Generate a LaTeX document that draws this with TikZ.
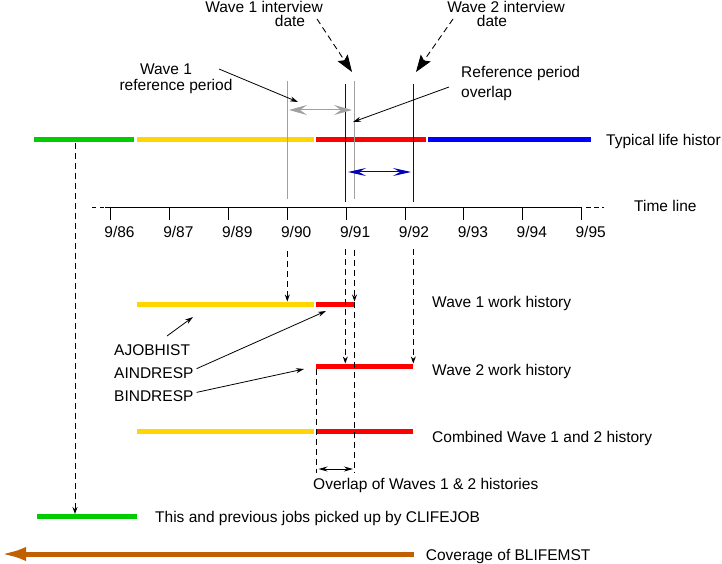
\documentclass[tikz,border=0pt]{standalone}
\usepackage{fontspec}
\setmainfont{Liberation Sans}
\usetikzlibrary{arrows.meta}
\definecolor{lifegreen}{HTML}{00CC00}
\definecolor{lifeyellow}{HTML}{FFD600}
\definecolor{lifered}{HTML}{FF0000}
\definecolor{lifeblue}{HTML}{0000FF}
\definecolor{navyline}{HTML}{0000B8}
\definecolor{refgray}{HTML}{A0A0A0}
\definecolor{coverorange}{HTML}{C06000}
\tikzset{
    lab/.style={anchor=base west,inner sep=0pt,font=\fontsize{15.5}{19}\selectfont},
    labc/.style={lab,anchor=base},
    bar/.style={line width=5pt},
    guide/.style={line width=0.9pt,dash pattern=on 6pt off 4pt},
    drop/.style={guide,-{Stealth[length=7pt,width=5pt]}},
    pointer/.style={line width=0.8pt,-{Stealth[length=8pt,width=5pt]}},
    bigtip/.style={guide,-{Stealth[length=17pt,width=12pt,inset=3pt]}},
    period/.style={line width=1pt,{Stealth[length=18pt,width=10pt,inset=7pt]}-{Stealth[length=18pt,width=10pt,inset=7pt]}}
}

\begin{document}
\begin{tikzpicture}[x=1pt,y=-1pt]
    \useasboundingbox (0,0) rectangle (722,564);

    \draw[bar,lifegreen] (34,140) -- (134,140);
    \draw[bar,lifeyellow] (137,140) -- (314,140);
    \draw[bar,lifered] (316,140) -- (426,140);
    \draw[bar,lifeblue] (428,140) -- (591,140);
    \node[lab] (typical) at (606,146) {Typical life histor};

    \draw[refgray,line width=1pt] (287.3,81) -- (287.3,199);
    \draw[refgray,line width=1pt] (354.5,81) -- (354.5,199);
    \draw[navyline,line width=1pt] (345.3,84) -- (345.3,202);
    \draw[navyline,line width=1pt] (413.3,84) -- (413.3,202);
    \coordinate (w1from) at (289,110);
    \coordinate (w1to) at (352,110);
    \draw[period,refgray] (w1from) -- (w1to);
    \coordinate (w2from) at (348,172);
    \coordinate (w2to) at (411,172);
    \draw[period,navyline,{Stealth[length=18pt,width=8pt,inset=7pt]}-{Stealth[length=18pt,width=8pt,inset=7pt]}] (w2from) -- (w2to);

    \draw[line width=1.3pt] (105,207.5) -- (582,207.5);
    \draw[line width=1.3pt,dash pattern=on 4pt off 4pt] (92,207.5) -- (105,207.5);
    \draw[line width=1.3pt,dash pattern=on 5pt off 3pt] (586,207.5) -- (604,207.5);
    \foreach \yr [count=\i from 0] in {86,87,89,90,91,92,93,94,95} {
        \draw[line width=1pt] (110.5+58.9*\i,207.5) -- ++(0,12);
        \node[labc] (t\yr) at (119.5+58.9*\i,237) {9/\yr};
    }
    \node[lab] (timeline) at (634,211) {Time line};

    \node[labc] (w1int) at (264,13) {Wave 1 interview};
    \node[labc] (w1date) at (290,27) {date};
    \node[labc] (w2int) at (506,13) {Wave 2 interview};
    \node[labc] (w2date) at (492,27) {date};
    \coordinate (w1intfrom) at (317,19);
    \coordinate (w1intto) at (352,72);
    \coordinate (w2intfrom) at (453,19);
    \coordinate (w2intto) at (416,72);
    \draw[bigtip] (w1intfrom) -- (w1intto);
    \draw[bigtip] (w2intfrom) -- (w2intto);

    \node[labc] (refwave) at (166,75) {Wave 1};
    \node[labc] (refperiod) at (176,91) {reference period};
    \coordinate (refpfrom) at (219,69);
    \coordinate (refpto) at (298,102);
    \draw[pointer] (refpfrom) -- (refpto);
    \node[lab] (ovref) at (461,78) {Reference period};
    \node[lab] (ovword) at (461,98) {overlap};
    \coordinate (ovfrom) at (449,87);
    \coordinate (ovto) at (353,122);
    \draw[pointer] (ovfrom) -- (ovto);

    \draw[bar,lifeyellow] (137,304) -- (314,304);
    \draw[bar,lifered] (316,304) -- (355,304);
    \node[lab] (wave1hist) at (432,307.7) {Wave 1 work history};
    \draw[bar,lifered] (316,366) -- (413,366);
    \node[lab] (wave2hist) at (432,375.7) {Wave 2 work history};
    \draw[bar,lifeyellow] (137,431.3) -- (314,431.3);
    \draw[bar,lifered] (316,431.3) -- (413,431.3);
    \node[lab] (combined) at (432,442.7) {Combined Wave 1 and 2 history};

    \coordinate (d90top) at (287.3,251);
    \coordinate (d90end) at (287.3,301.5);
    \coordinate (d91top) at (345.3,249);
    \coordinate (d91end) at (345.3,363.5);
    \coordinate (dovtop) at (354.5,250);
    \coordinate (dovend) at (354.5,301.5);
    \coordinate (dovlow) at (354.5,473);
    \coordinate (d92top) at (413.3,249);
    \coordinate (d92end) at (413.3,363.5);
    \coordinate (dstart) at (316.5,368.5);
    \coordinate (dstartlow) at (316.5,473);
    \draw[drop] (d90top) -- (d90end);
    \draw[drop] (d91top) -- (d91end);
    \draw[drop] (dovtop) -- (dovend);
    \draw[guide] (dovend) -- (dovlow);
    \draw[drop] (d92top) -- (d92end);
    \draw[guide] (dstart) -- (dstartlow);
    \coordinate (ovlfrom) at (318.5,469);
    \coordinate (ovlto) at (353,469);
    \draw[line width=0.9pt,{Stealth[length=9pt,width=5pt]}-{Stealth[length=9pt,width=5pt]}] (ovlfrom) -- (ovlto);
    \node[lab] (overlap) at (313,489.3) {Overlap of Waves 1 \& 2 histories};

    \node[lab] (ajobhist) at (114,355) {AJOBHIST};
    \node[lab] (aindresp) at (114,378) {AINDRESP};
    \node[lab] (bindresp) at (114,401.7) {BINDRESP};
    \coordinate (ajobto) at (193,317);
    \coordinate (aindto) at (326,311);
    \coordinate (bindto) at (304,369);
    \draw[pointer] (167,336) -- (ajobto);
    \draw[pointer] (aindresp.east) ++(3,-4) coordinate (aindfrom) (aindfrom) -- (aindto);
    \draw[pointer] (bindresp.east) ++(3,-4) coordinate (bindfrom) (bindfrom) -- (bindto);

    \coordinate (greentop) at (75,143);
    \coordinate (greenend) at (75,514);
    \draw[drop] (greentop) -- (greenend);
    \draw[bar,lifegreen] (37,516.5) -- (137,516.5);
    \node[lab] (clifejob) at (155,522.7) {This and previous jobs picked up by CLIFEJOB};

    \coordinate (coverfrom) at (414,554);
    \coordinate (coverto) at (0,554);
    \draw[coverorange,line width=5pt,-{Latex[length=26pt,width=14pt]}] (coverfrom) -- (coverto);
    \node[lab] (blifemst) at (425.7,560) {Coverage of BLIFEMST};
\end{tikzpicture}
\end{document}
